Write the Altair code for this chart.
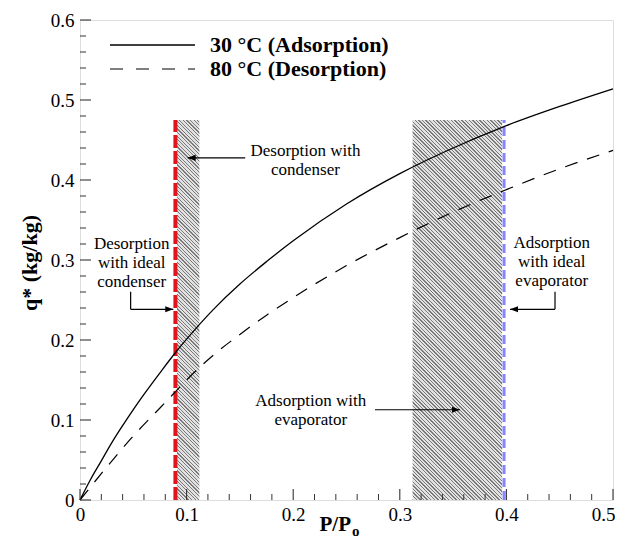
import altair as alt
import pandas as pd

# ---------------- data ----------------
x_ads = [0, 0.01, 0.02, 0.03, 0.04, 0.05, 0.06, 0.075, 0.09, 0.1, 0.125, 0.15,
         0.175, 0.2, 0.25, 0.3, 0.35, 0.4, 0.45, 0.5]
q_ads = [0, 0.026, 0.049, 0.072, 0.093, 0.113, 0.132, 0.159, 0.185, 0.201, 0.238, 0.27,
         0.298, 0.324, 0.37, 0.408, 0.44, 0.468, 0.492, 0.514]

x_des = [0, 0.025, 0.05, 0.075, 0.09, 0.1, 0.125, 0.15, 0.175, 0.2, 0.25, 0.3,
         0.35, 0.4, 0.45, 0.5]
q_des = [0, 0.041, 0.08, 0.115, 0.136, 0.15, 0.181, 0.207, 0.231, 0.253, 0.293, 0.328,
         0.36, 0.388, 0.414, 0.437]

x_major = [0, 0.1, 0.2, 0.3, 0.4, 0.5]
x_minor = [0.02, 0.04, 0.06, 0.08, 0.12, 0.14, 0.16, 0.18, 0.22, 0.24, 0.26, 0.28,
           0.32, 0.34, 0.36, 0.38, 0.42, 0.44, 0.46, 0.48]
y_major = [0, 0.1, 0.2, 0.3, 0.4, 0.5, 0.6]
y_minor = [0.02, 0.04, 0.06, 0.08, 0.12, 0.14, 0.16, 0.18, 0.22, 0.24, 0.26, 0.28,
           0.32, 0.34, 0.36, 0.38, 0.42, 0.44, 0.46, 0.48, 0.52, 0.54, 0.56, 0.58]

condenser_band = [0.091, 0.112]
evaporator_band = [0.312, 0.396]
band_top = 0.475
ideal_condenser_x = 0.0895
ideal_evaporator_x = 0.3978

series_names = ["30 °C (Adsorption)", "80 °C (Desorption)"]

# ---------------- layout ----------------
W, H = 533, 480
FONT = "Liberation Serif"
XD, YD = [0, 0.5], [0, 0.6]

xs = alt.Scale(domain=XD, nice=False, zero=False)
ys = alt.Scale(domain=YD, nice=False, zero=False)
xaxis = alt.Axis(values=x_major, format="~g", ticks=False, domain=False, grid=False,
                 title=None, labelFont=FONT, labelFontSize=19, labelColor="black",
                 labelPadding=5, labelFlush=False,
                 labelAlign=alt.ConditionalAxisLabelAlign(
                     condition={"test": "datum.value >= 0.5", "value": "right"}, value="center"),
                 labelOffset=alt.ConditionalAxisNumber(
                     condition={"test": "datum.value >= 0.5", "value": 2}, value=0))
yaxis = alt.Axis(values=y_major, format="~g", ticks=False, domain=False, grid=False,
                 title=None, labelFont=FONT, labelFontSize=19, labelColor="black",
                 labelPadding=6, labelFlush=False)


def X(f, **kw):
    return alt.X(f, type="quantitative", scale=xs, axis=xaxis, title=None, **kw)


def Y(f, **kw):
    return alt.Y(f, type="quantitative", scale=ys, axis=yaxis, title=None, **kw)


one = pd.DataFrame({"k": [0]})

# ---------------- curves ----------------
ads = pd.DataFrame({"x": x_ads, "q": q_ads})
des = pd.DataFrame({"x": x_des, "q": q_des})
line_ads = alt.Chart(ads).mark_line(color="black", strokeWidth=1.3, interpolate="monotone").encode(
    x=X("x"), y=Y("q"))
line_des = alt.Chart(des).mark_line(color="black", strokeWidth=1.2, strokeDash=[13, 10],
                                    interpolate="monotone").encode(x=X("x"), y=Y("q"))


# ---------------- hatched bands (diagonal stripe gradient) ----------------
def hatch(x0, x1, top, period=3.6, frac=0.36, dark="#7a7a7a", light="#e2e2e2"):
    wp = (x1 - x0) / (XD[1] - XD[0]) * W
    hp = top / (YD[1] - YD[0]) * H
    L = wp + hp
    lam = L / (wp ** 2 + hp ** 2)
    stops = []
    k = 0
    while k * period < L:
        a = k * period / L
        b = min((k * period + frac * period) / L, 1)
        c = min((k + 1) * period / L, 1)
        stops += [(a, dark), (b, dark), (b, light), (c, light)]
        k += 1
    return alt.LinearGradient(
        gradient="linear",
        stops=[alt.GradientStop(offset=round(o, 5), color=col) for o, col in stops],
        x1=0, y1=1, x2=lam * wp, y2=1 - lam * hp)


def band(b):
    df = pd.DataFrame({"x0": [b[0]], "x1": [b[1]], "b": [0], "t": [band_top]})
    return alt.Chart(df).mark_rect(fill=hatch(b[0], b[1], band_top), strokeWidth=0).encode(
        x=X("x0"), x2="x1", y=Y("b"), y2="t")


band1 = band(condenser_band)
band2 = band(evaporator_band)

ideal_c = alt.Chart(pd.DataFrame({"x": [ideal_condenser_x], "b": [0], "t": [band_top]})).mark_rule(
    color="#e3141b", strokeWidth=4, strokeDash=[13, 3]).encode(x=X("x"), y=Y("b"), y2="t")
ideal_e = alt.Chart(pd.DataFrame({"x": [ideal_evaporator_x], "b": [0], "t": [band_top]})).mark_rule(
    color="#8585ff", strokeWidth=3, strokeDash=[9, 4]).encode(x=X("x"), y=Y("b"), y2="t")

# ---------------- inward ticks ----------------
tick_col = "#333333"
xt_major = alt.Chart(pd.DataFrame({"v": x_major})).mark_rule(color=tick_col, strokeWidth=1.1).encode(
    x=X("v"), y=alt.value(H), y2=alt.value(H - 11))
xt_minor = alt.Chart(pd.DataFrame({"v": x_minor})).mark_rule(color=tick_col, strokeWidth=1).encode(
    x=X("v"), y=alt.value(H), y2=alt.value(H - 6))
yt_major = alt.Chart(pd.DataFrame({"v": y_major})).mark_rule(color=tick_col, strokeWidth=1.1).encode(
    y=Y("v"), x=alt.value(0), x2=alt.value(11))
yt_minor = alt.Chart(pd.DataFrame({"v": y_minor})).mark_rule(color=tick_col, strokeWidth=1).encode(
    y=Y("v"), x=alt.value(0), x2=alt.value(6))

# ---------------- annotations (y = first line) ----------------
notes = pd.DataFrame({
    "x": [0.2115, 0.0485, 0.4425, 0.2165],
    "y": [0.4368, 0.3195, 0.321, 0.124],
    "t": ["Desorption with\ncondenser", "Desorption\nwith ideal\ncondenser",
          "Adsorption\nwith ideal\nevaporator", "Adsorption with\nevaporator"],
})
note_text = alt.Chart(notes).mark_text(font=FONT, fontSize=17, lineBreak="\n", lineHeight=19,
                                       align="center", baseline="middle", color="black").encode(
    x=X("x"), y=Y("y"), text="t:N")

segs = pd.DataFrame({
    "x": [0.155, 0.0475, 0.0475, 0.4456, 0.4456, 0.2767],
    "x2": [0.101, 0.0475, 0.0875, 0.4456, 0.4034, 0.3565],
    "y": [0.4277, 0.2603, 0.2384, 0.2603, 0.2384, 0.1128],
    "y2": [0.4277, 0.2384, 0.2384, 0.2384, 0.2384, 0.1128],
})
arrow_lines = alt.Chart(segs).mark_rule(color="black", strokeWidth=1.2).encode(
    x=X("x"), x2="x2", y=Y("y"), y2="y2")
heads_left = alt.Chart(pd.DataFrame({"x": [0.101, 0.4034], "y": [0.4277, 0.2384]})).mark_point(
    shape="M0,0 L1,-0.38 L1,0.38 Z", size=256, filled=True, color="black", opacity=1).encode(
    x=X("x"), y=Y("y"))
heads_right = alt.Chart(pd.DataFrame({"x": [0.0875, 0.3565], "y": [0.2384, 0.1128]})).mark_point(
    shape="M0,0 L-1,-0.38 L-1,0.38 Z", size=256, filled=True, color="black", opacity=1).encode(
    x=X("x"), y=Y("y"))

# ---------------- legend ----------------
leg_solid = alt.Chart(one).mark_rule(color="black", strokeWidth=1.3).encode(
    x=alt.value(30), x2=alt.value(115), y=alt.value(25))
leg_dash = alt.Chart(one).mark_rule(color="black", strokeWidth=1.2, strokeDash=[13, 13]).encode(
    x=alt.value(30), x2=alt.value(115), y=alt.value(49))
leg_t1 = alt.Chart(one).mark_text(font=FONT, fontSize=22, fontWeight="bold", align="left",
                                  baseline="middle", color="black").encode(
    x=alt.value(130), y=alt.value(25), text=alt.value(series_names[0]))
leg_t2 = alt.Chart(one).mark_text(font=FONT, fontSize=22, fontWeight="bold", align="left",
                                  baseline="middle", color="black").encode(
    x=alt.value(130), y=alt.value(49), text=alt.value(series_names[1]))

# ---------------- axis titles ----------------
xt1 = alt.Chart(one).mark_text(font=FONT, fontSize=21, fontWeight="bold", align="right",
                               baseline="alphabetic", color="black").encode(
    x=alt.value(271), y=alt.value(H + 31), text=alt.value("P/P"))
xt2 = alt.Chart(one).mark_text(font=FONT, fontSize=15, fontWeight="bold", align="left",
                               baseline="alphabetic", color="black").encode(
    x=alt.value(272), y=alt.value(H + 36), text=alt.value("o"))
yt = alt.Chart(one).mark_text(font=FONT, fontSize=22, fontWeight="bold", align="center",
                              baseline="middle", angle=270, color="black").encode(
    x=alt.value(-50), y=alt.value(243), text=alt.value("q* (kg/kg)"))

chart = alt.layer(
    band1, band2, ideal_c, ideal_e,
    line_ads, line_des,
    xt_major, xt_minor, yt_major, yt_minor,
    arrow_lines, heads_left, heads_right, note_text,
    leg_solid, leg_dash, leg_t1, leg_t2,
    xt1, xt2, yt,
).properties(
    width=W, height=H,
    autosize=alt.AutoSizeParams(type="none"),
    padding={"left": 72, "top": 12, "right": 2, "bottom": 38},
).configure_view(stroke="#1a1a1a", strokeWidth=1.6).configure(background="white")

chart.save("out.html", embed_options={"renderer": "svg", "actions": False})
